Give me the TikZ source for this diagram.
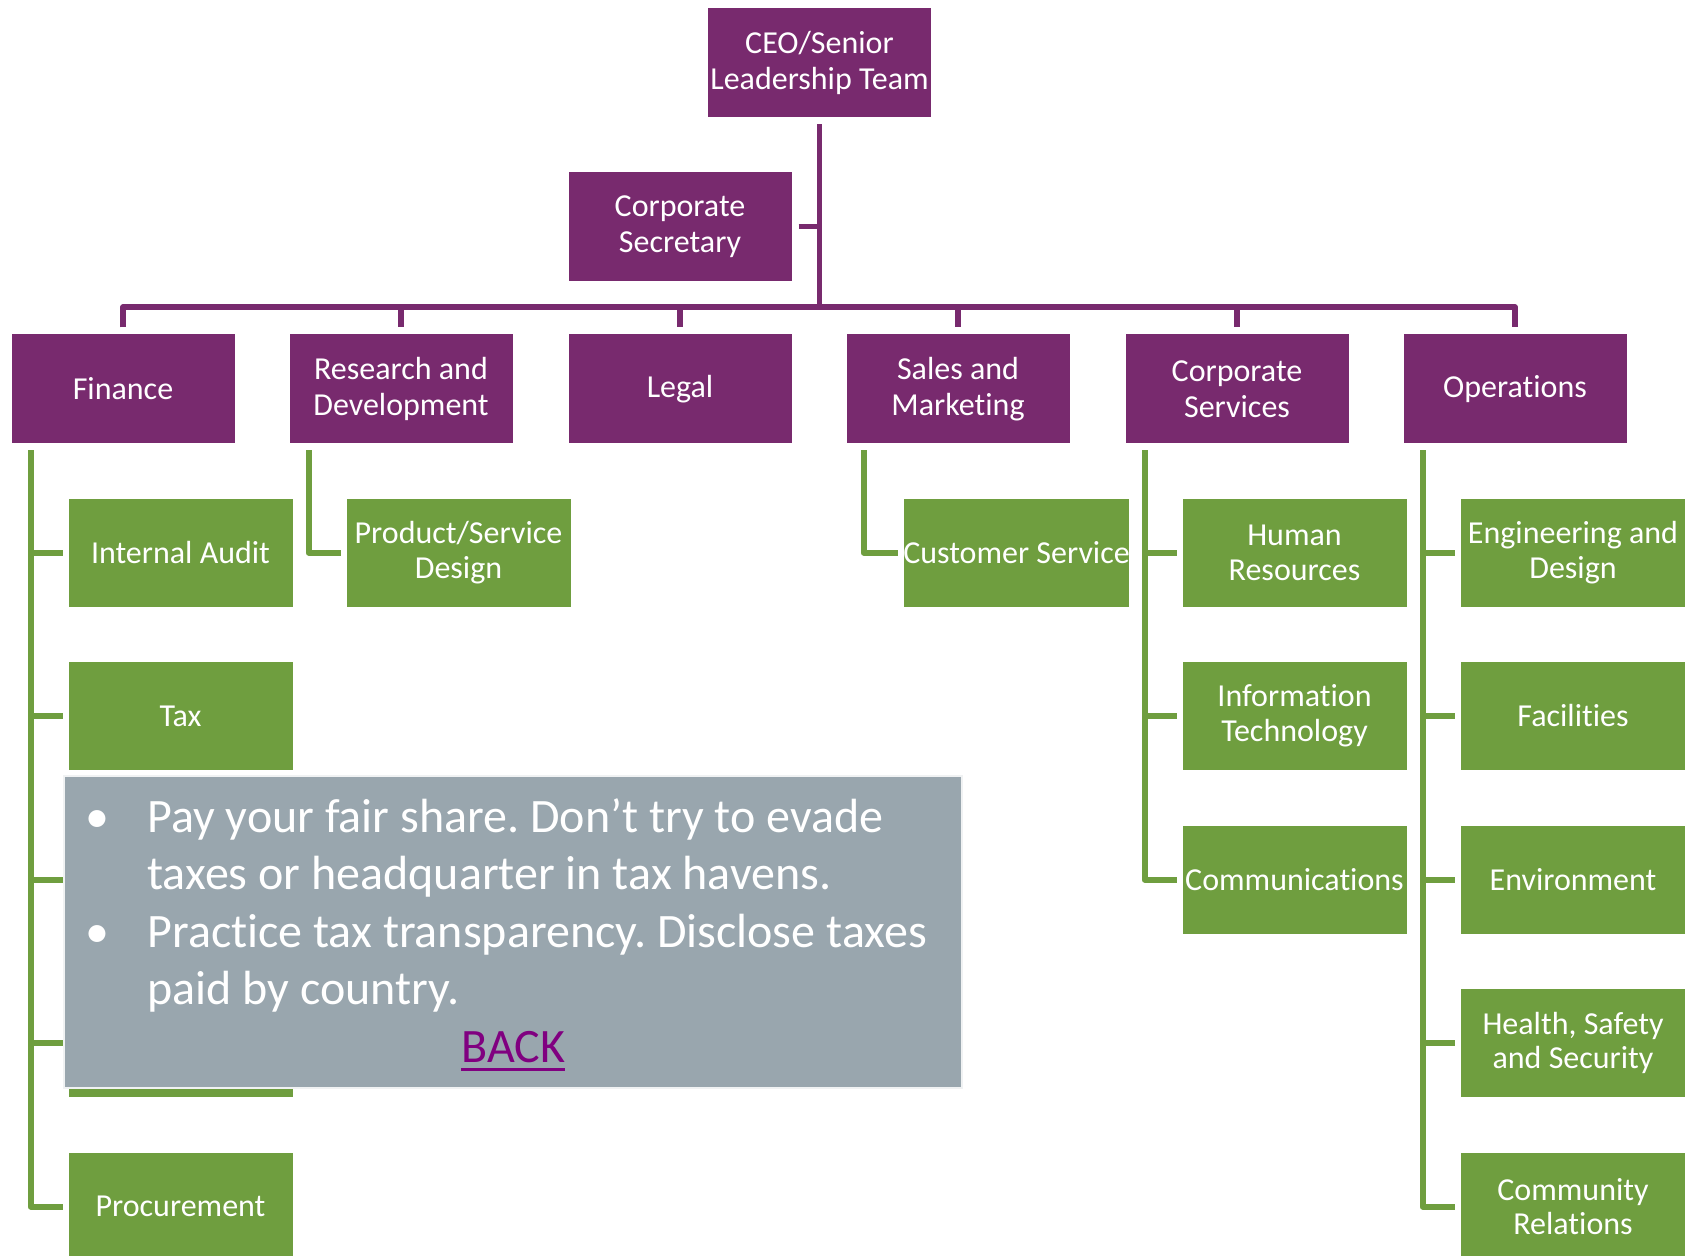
\documentclass[tikz,border=0pt]{standalone}
\usepackage{fontspec}
\setmainfont{Carlito}[Ligatures={NoCommon}]
\usetikzlibrary{calc}
\frenchspacing
\definecolor{boxpurple}{RGB}{120,42,110}
\definecolor{boxgreen}{RGB}{111,158,63}
\definecolor{boxgray}{RGB}{153,166,174}
\definecolor{backpurple}{RGB}{128,0,128}
\tikzset{
  pbox/.style={fill=boxpurple, draw=white, line width=0.5pt, text=white, minimum width=112pt, minimum height=55pt, inner sep=0pt, align=center, font=\fontsize{16}{17.8}\selectfont},
  gbox/.style={fill=boxgreen, draw=white, line width=0.5pt, text=white, minimum width=112.5pt, minimum height=54.5pt, inner sep=0pt, align=center, font=\fontsize{16}{17.4}\selectfont},
  pline/.style={draw=boxpurple, line width=2.6pt, line join=round},
  gline/.style={draw=boxgreen, line width=3pt, line join=round},
  graytext/.style={text=white, inner sep=0pt, anchor=base west, font=\fontsize{24}{28.75}\selectfont},
}
\begin{document}
\begin{tikzpicture}[x=0.5pt,y=-0.5pt]
\useasboundingbox (0,0) rectangle (1690,1256);
\fill[white] (0,0) rectangle (1690,1256);
% top
\node[pbox] (ceo) at (819.5,63) {CEO/Senior\\Leadership Team};
\node[pbox] (sec) at (680,226.5) {Corporate\\Secretary};
\coordinate (bus) at (819.5,307);
% departments
\node[pbox] (fin) at (123,389) {Finance};
\node[pbox] (rd) at (401,389) {Research and\\Development};
\node[pbox] (leg) at (680,389) {Legal};
\node[pbox] (sal) at (958,389) {Sales and\\Marketing};
\node[pbox] (csv) at (1237,389) {Corporate\\Services};
\node[pbox] (ops) at (1515,389) {Operations};
% purple connectors
\draw[pline] ($(ceo.south)+(0,6)$) -- (ceo.south |- bus);
\draw[pline] ($(sec.east)+(6,0)$) -- (ceo.south |- sec.east);
\draw[pline] ($(fin.north)+(0,-6)$) -- (fin.north |- bus) -- (ops.north |- bus) -- ($(ops.north)+(0,-6)$);
\draw[pline] (rd.north |- bus) -- ($(rd.north)+(0,-6)$);
\draw[pline] (leg.north |- bus) -- ($(leg.north)+(0,-6)$);
\draw[pline] (sal.north |- bus) -- ($(sal.north)+(0,-6)$);
\draw[pline] (csv.north |- bus) -- ($(csv.north)+(0,-6)$);
% finance children
\node[gbox] (ia) at (180.5,552.5) {Internal Audit};
\node[gbox] (tax) at (180.5,716) {Tax};
\node[gbox] (f3) at (180.5,879.5) {};
\node[gbox] (f4) at (180.5,1043) {};
\node[gbox] (proc) at (180.5,1206.5) {Procurement};
\coordinate (fx) at ($(fin.south west)+(20,6)$);
\draw[gline] (fx) |- ($(proc.west)+(-5,0)$);
\draw[gline] (fx |- ia.west) -- ($(ia.west)+(-5,0)$);
\draw[gline] (fx |- tax.west) -- ($(tax.west)+(-5,0)$);
\draw[gline] (fx |- f3.west) -- ($(f3.west)+(-5,0)$);
\draw[gline] (fx |- f4.west) -- ($(f4.west)+(-5,0)$);
% R&D child
\node[gbox] (psd) at (458.5,552.5) {Product/Service\\Design};
\draw[gline] ($(rd.south west)+(20,6)$) |- ($(psd.west)+(-5,0)$);
% Sales child
\node[gbox] (cus) at (1016.5,552.5) {Customer Service};
\draw[gline] ($(sal.south west)+(18,6)$) |- ($(cus.west)+(-5,0)$);
% Corporate services children
\node[gbox] (hr) at (1294.5,552.5) {Human\\Resources};
\node[gbox] (it) at (1294.5,716) {Information\\Technology};
\node[gbox] (com) at (1294.5,879.5) {Communications};
\coordinate (cx) at ($(csv.south west)+(20,6)$);
\draw[gline] (cx) |- ($(com.west)+(-5,0)$);
\draw[gline] (cx |- hr.west) -- ($(hr.west)+(-5,0)$);
\draw[gline] (cx |- it.west) -- ($(it.west)+(-5,0)$);
% Operations children
\node[gbox] (eng) at (1573,552.5) {Engineering and\\Design};
\node[gbox] (fac) at (1573,716) {Facilities};
\node[gbox] (env) at (1573,879.5) {Environment};
\node[gbox] (hss) at (1573,1043) {Health, Safety\\and Security};
\node[gbox] (cr) at (1573,1206.5) {Community\\Relations};
\coordinate (ox) at ($(ops.south west)+(20,6)$);
\draw[gline] (ox) |- ($(cr.west)+(-5,0)$);
\draw[gline] (ox |- eng.west) -- ($(eng.west)+(-5,0)$);
\draw[gline] (ox |- fac.west) -- ($(fac.west)+(-5,0)$);
\draw[gline] (ox |- env.west) -- ($(env.west)+(-5,0)$);
\draw[gline] (ox |- hss.west) -- ($(hss.west)+(-5,0)$);
% gray callout
\node[fill=boxgray, draw=white!85!boxgray, line width=0.6pt, minimum width=449pt, minimum height=156pt, inner sep=0pt] (callout) at (513,932) {};
\node[graytext] (b1) at (85,832) {•};
\node[graytext] (l1) at (147,832) {Pay your fair share. Don’t try to evade};
\node[graytext] (l2) at (147,889) {taxes or headquarter in tax havens.};
\node[graytext] (b2) at (85,947) {•};
\node[graytext] (l3) at (147,947) {Practice tax transparency. Disclose taxes};
\node[graytext] (l4) at (147,1004) {paid by country.};
\node[graytext, text=backpurple] (back) at (461,1062) {BACK};
\draw[backpurple, line width=1.5pt] ($(back.base west)+(0,7)$) -- ($(back.base east)+(0,7)$);
\end{tikzpicture}
\end{document}
